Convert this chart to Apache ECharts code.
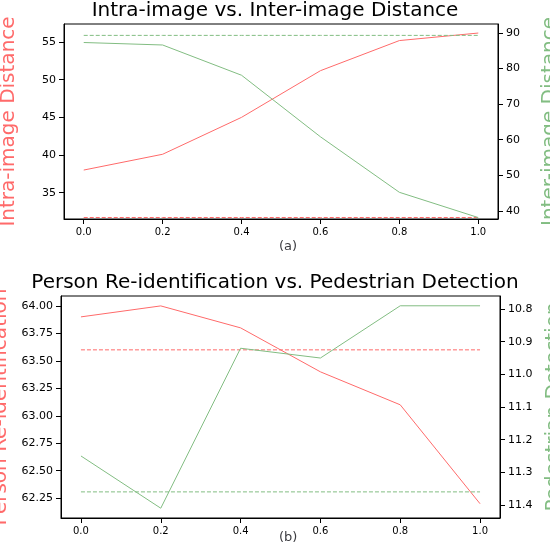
<!DOCTYPE html><html><head><meta charset="utf-8"><script src="https://cdn.jsdelivr.net/npm/echarts@6/dist/echarts.min.js"></script></head><body style="margin:0"><div id="c" style="width:550px;height:546px"></div><script>
const xs=[0,0.2,0.4,0.6,0.8,1.0];
const xTicks=[0,0.2,0.4,0.6,0.8,1.0];
const intraDist=[38,40.1,45,51.2,55.2,56.2];
const interDist=[87.3,86.6,78.1,60.8,45.2,38.1];
const intraRef=31.7, interRef=89.3;
const reid=[63.9,64.0,63.8,63.4,63.1,62.2];
const det=[11.25,11.41,10.92,10.95,10.79,10.79];
const reidRef=63.6, detRef=11.36;
const ticksA=[35,40,45,50,55], ticksA2=[40,50,60,70,80,90];
const ticksB=[62.25,62.5,62.75,63,63.25,63.5,63.75,64];
const ticksB2=[10.8,10.9,11.0,11.1,11.2,11.3,11.4];
const RED='#ff6a6a', GREEN='#82bd82';
const F='DejaVu Sans';
const pr=a=>xs.map((x,i)=>[x,a[i]]);
const flat=v=>xs.map(x=>[x,v]);
function yax(min,max,ticks,name,color,pos,inv,dec,gi){return {type:'value',gridIndex:gi,position:pos,min,max,inverse:!!inv,name,nameLocation:'middle',nameGap:pos==='left'?45:42,nameRotate:90,nameTextStyle:{color,fontSize:20,fontFamily:F},
axisLine:{show:true,onZero:false,lineStyle:{color:'#000'}},splitLine:{show:false},axisTick:{show:true,customValues:ticks,lineStyle:{color:'#000'}},
axisLabel:{customValues:ticks,color:'#000',fontSize:11,fontFamily:F,formatter:v=>v.toFixed(dec)}};}
function xax(gi){return {type:'value',gridIndex:gi,min:-0.05,max:1.05,axisLine:{onZero:false,lineStyle:{color:'#000'}},splitLine:{show:false},
axisTick:{customValues:xTicks,lineStyle:{color:'#000'}},axisLabel:{customValues:xTicks,color:'#000',fontSize:10,fontFamily:F,formatter:v=>v.toFixed(1)}};}
function ln(d,color,xi,yi,dash){return {type:'line',data:d,xAxisIndex:xi,yAxisIndex:yi,symbol:'none',lineStyle:{color,width:1,type:dash?[4,2]:'solid'},animation:false};}
const ch=echarts.init(document.getElementById('c'));
ch.setOption({animation:false,
title:[{text:'Intra-image vs. Inter-image Distance',left:'center',top:-4,textStyle:{fontSize:20,fontWeight:'normal',fontFamily:F,color:'#000'}},
{text:'Person Re-identification vs. Pedestrian Detection',left:'center',top:268,textStyle:{fontSize:20,fontWeight:'normal',fontFamily:F,color:'#000'}},
{text:'(a)',left:274,top:235,textStyle:{fontSize:13,fontWeight:'normal',fontFamily:F}},
{text:'(b)',left:274,top:526,textStyle:{fontSize:13,fontWeight:'normal',fontFamily:F}}],
grid:[{left:64,right:52,top:24,height:195,outerBoundsMode:'none',containLabel:false,show:true,borderColor:'#000',borderWidth:1},{left:61,right:50,top:296,height:222,outerBoundsMode:'none',containLabel:false,show:true,borderColor:'#000',borderWidth:1}],
xAxis:[xax(0),xax(1)],
yAxis:[yax(31.5,57.4,ticksA,'Intra-image Distance',RED,'left',false,0,0),yax(37.7,92.5,ticksA2,'Inter-image Distance',GREEN,'right',false,0,0),
yax(62.07,64.09,ticksB,'Person Re-identification',RED,'left',false,2,1),yax(10.76,11.44,ticksB2,'Pedestrian Detection',GREEN,'right',true,1,1)],
series:[ln(pr(intraDist),RED,0,0),ln(flat(intraRef),RED,0,0,1),ln(pr(interDist),GREEN,0,1),ln(flat(interRef),GREEN,0,1,1),
ln(pr(reid),RED,1,2),ln(flat(reidRef),RED,1,2,1),ln(pr(det),GREEN,1,3),ln(flat(detRef),GREEN,1,3,1)]});
</script></body></html>
